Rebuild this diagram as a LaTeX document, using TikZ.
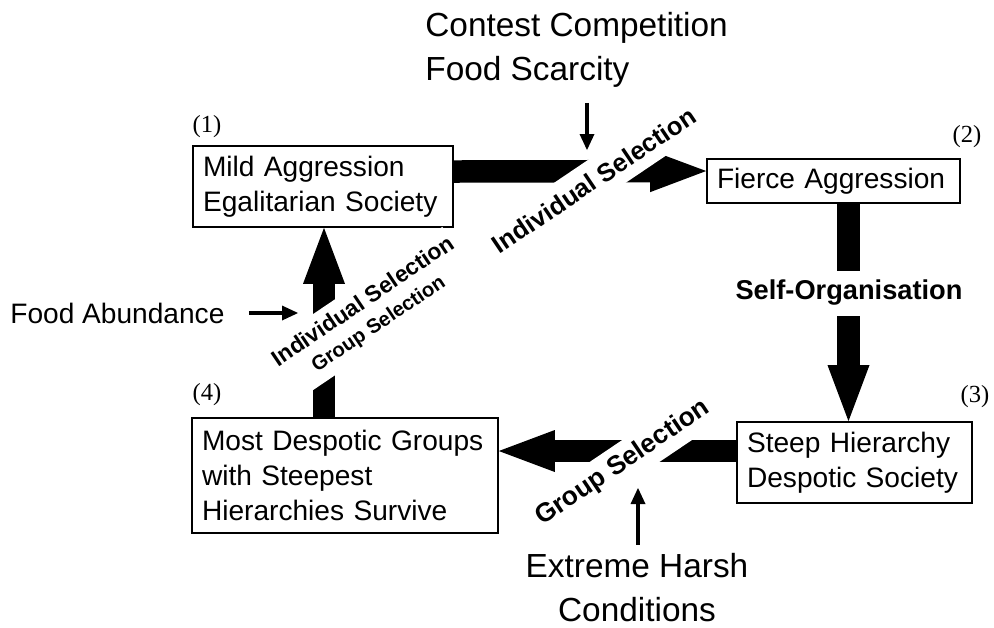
\documentclass[tikz,border=0pt]{standalone}
\usepackage{fontspec}
\setmainfont{Liberation Sans}
\newfontfamily\numfont{Liberation Serif}
\usetikzlibrary{arrows.meta, positioning}

\begin{document}
\begin{tikzpicture}[
        x=0.02cm, y=-0.02cm,
        box/.style={draw, line width=1pt, inner xsep=0.2cm, inner ysep=0pt, align=left, font=\fontsize{16}{20}\selectfont},
        bigarrow/.style={line width=0.45cm, -{Triangle[length=1.12cm, width=0.84cm, line width=0pt]}},
        smallarrow/.style={line width=2pt, -{Triangle[length=0.32cm, width=0.3cm, line width=0pt]}},
        gap/.style={fill=white, inner xsep=0pt, align=center},
        num/.style={font=\numfont\fontsize{14}{16}\selectfont},
        cue/.style={inner sep=0pt, font=\fontsize{19}{25}\selectfont}
    ]
        \useasboundingbox (0,0) rectangle (994,627);

        % --- STATES ---
        \node[box, text width=4.8cm, minimum height=1.62cm] (mild) at (323,186.5) {Mild Aggression\\Egalitarian Society};
        \node[box, text width=4.66cm, minimum height=0.88cm] (fierce) at (833.5,181) {Fierce Aggression};
        \node[box, text width=4.3cm, minimum height=1.62cm] (steep) at (854.5,462.5) {Steep Hierarchy\\Despotic Society};
        \node[box, text width=5.72cm, minimum height=2.3cm] (despot) at (345,475.5) {Most Despotic Groups\\with Steepest\\Hierarchies Survive};

        \node[num] (n1) at (207,127) {(1)};
        \node[num] (n2) at (967,137) {(2)};
        \node[num] (n3) at (975,397) {(3)};
        \node[num] (n4) at (207,395) {(4)};

        % --- CONDITIONS ---
        \node[cue, anchor=west, align=left] (scarcity) at (425,50) {Contest Competition\\Food Scarcity};
        \node[cue, anchor=west, font=\fontsize{16}{20}\selectfont] (abundance) at (10,313) {Food Abundance};
        \node[cue, align=center, inner ysep=5pt] (harsh) at (637,588) {Extreme Harsh\\Conditions};

        % --- TRANSITIONS ---
        \draw[bigarrow] ([yshift=0.3cm]mild.east) -- ([yshift=0.2cm]fierce.west);
        \draw[bigarrow] ([xshift=0.3cm]fierce.south) -- ([xshift=0.3cm]fierce.south |- steep.north);
        \draw[bigarrow] ([yshift=0.23cm]steep.west) -- ([yshift=0.23cm]steep.west -| despot.east);
        \draw[bigarrow] ([xshift=-0.42cm]despot.north) -- ([xshift=-0.42cm]despot.north |- mild.south);

        % labels cut through the arrows
        \node[gap, rotate=34, minimum height=0.8cm, font=\bfseries\fontsize{14.5}{17}\selectfont] (indsel) at (594,180) {Individual Selection};
        \node[gap, inner xsep=4pt, minimum height=0.9cm, font=\bfseries\fontsize{15.5}{18}\selectfont] (selforg) at (849,293) {Self-Organisation};
        \node[gap, rotate=34, minimum height=0.78cm, font=\bfseries\fontsize{15}{18}\selectfont] (grpsel) at (623,463) {Group Selection};
        \node[gap, rotate=34, minimum height=1.26cm, font=\bfseries\fontsize{13}{15}\selectfont] (indgrp) at (371,313) {Individual Selection\\{\fontsize{11.5}{14}\selectfont Group Selection}};

        % --- PRESSURES ---
        \coordinate (scartip) at (587,150);
        \coordinate (abtip) at (298,313);
        \coordinate (harshtip) at (638,488);
        \draw[smallarrow, shorten <=0.3cm] (scartip |- scarcity.south) -- (scartip);
        \draw[smallarrow, shorten <=0.48cm] (abundance.east) -- (abtip);
        \draw[smallarrow] (harshtip |- harsh.north) -- (harshtip);

    \end{tikzpicture}
\end{document}
